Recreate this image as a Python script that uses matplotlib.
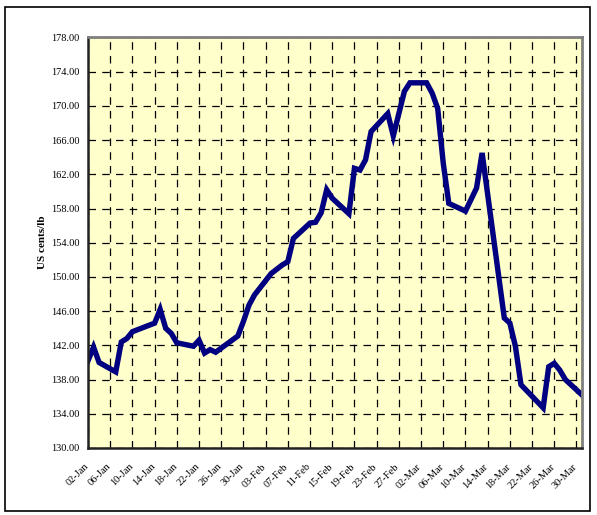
import numpy as np
import pandas as pd
import matplotlib
matplotlib.use('Agg')
import matplotlib.pyplot as plt
import matplotlib.transforms as mtransforms
from matplotlib.patches import Rectangle

# daily prices, early 2008
dates = ['2008-01-02', '2008-01-03', '2008-01-04', '2008-01-07', '2008-01-08',
         '2008-01-09', '2008-01-10', '2008-01-14', '2008-01-15', '2008-01-16',
         '2008-01-17', '2008-01-18', '2008-01-21', '2008-01-22', '2008-01-23',
         '2008-01-24', '2008-01-25', '2008-01-29', '2008-01-30', '2008-01-31',
         '2008-02-01', '2008-02-04', '2008-02-06', '2008-02-07', '2008-02-08',
         '2008-02-11', '2008-02-12', '2008-02-13', '2008-02-14', '2008-02-15',
         '2008-02-18', '2008-02-19', '2008-02-20', '2008-02-21', '2008-02-22',
         '2008-02-25', '2008-02-26', '2008-02-28', '2008-02-29', '2008-03-03',
         '2008-03-04', '2008-03-05', '2008-03-06', '2008-03-07', '2008-03-10',
         '2008-03-12', '2008-03-13', '2008-03-17', '2008-03-18', '2008-03-19',
         '2008-03-20', '2008-03-24', '2008-03-25', '2008-03-26', '2008-03-27',
         '2008-03-28', '2008-03-31']
prices = [140.2, 141.8, 140.0, 138.9, 142.4,
          142.8, 143.6, 144.6, 146.2, 144.0,
          143.4, 142.3, 141.9, 142.6, 141.1,
          141.5, 141.2, 143.1, 144.8, 146.7,
          147.9, 150.4, 151.4, 151.8, 154.5,
          156.3, 156.4, 157.5, 160.2, 159.2,
          157.4, 162.7, 162.5, 163.7, 167.0,
          169.1, 166.5, 171.7, 172.7, 172.7,
          171.5, 169.7, 163.3, 158.6, 157.7,
          160.4, 164.5, 145.2, 144.6, 141.9,
          137.4, 134.7, 139.5, 139.9, 139.1,
          138.0, 136.2]

yticks = np.arange(130, 179, 4)
x = pd.to_datetime(dates)

fig = plt.figure(figsize=(5.97, 5.15), dpi=100)
ax = fig.add_axes([0.1474, 0.1301, 0.8275, 0.7971])
ax.set_facecolor('#FFFFCC')

ax.plot(x, prices, color='#000080', linewidth=3.9, solid_joinstyle='miter')

ax.set_ylim(130, 178)
ax.set_yticks(yticks)
ax.set_yticklabels(['%.2f' % v for v in yticks])
ax.set_xlim(pd.Timestamp('2008-01-02'), pd.Timestamp('2008-03-31'))
xt = pd.date_range('2008-01-02', '2008-03-30', freq='4D')
ax.set_xticks(xt)
ax.set_xticklabels([d.strftime('%d-%b') for d in xt], rotation=45,
                   ha='right', va='top', rotation_mode='anchor')

ax.grid(True, color='black', linestyle=(0, (6, 5)), linewidth=0.9)
ax.set_axisbelow(True)
ax.tick_params(length=0, pad=6, labelsize=7.5)
ax.tick_params(axis='x', pad=10)
shift = mtransforms.ScaledTranslation(-4 / 100, 0, fig.dpi_scale_trans)
for lab in ax.get_xticklabels():
    lab.set_transform(lab.get_transform() + shift)
for lab in ax.get_xticklabels() + ax.get_yticklabels():
    lab.set_family('Liberation Serif')

ax.set_ylabel('US cents/lb', fontsize=8, fontweight='bold',
              family='Liberation Serif', labelpad=3)

for s in ['top', 'right']:
    ax.spines[s].set_color('#808080')
    ax.spines[s].set_linewidth(2)
for s in ['left', 'bottom']:
    ax.spines[s].set_color('#222222')
    ax.spines[s].set_linewidth(1.8)

fig.patches.append(Rectangle((5 / 597, 1 - 511 / 515), 585 / 597, 504 / 515,
                             transform=fig.transFigure, fill=False,
                             edgecolor='black', linewidth=1.2))

fig.savefig('out.png', dpi=100)
